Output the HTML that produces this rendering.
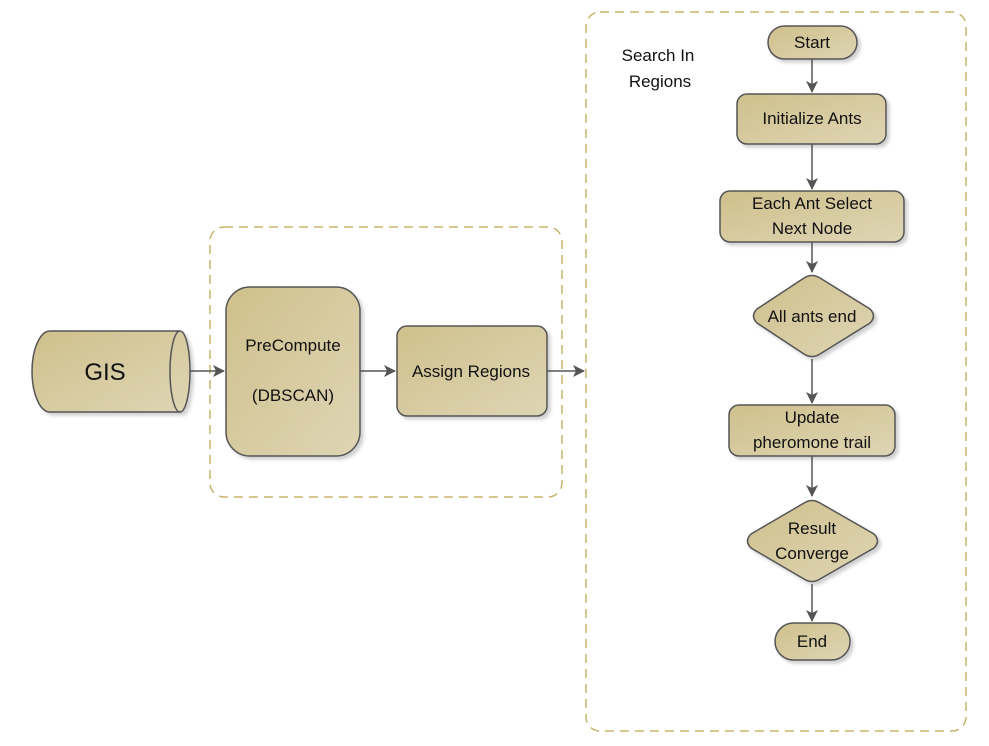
<!DOCTYPE html>
<html><head><meta charset="utf-8"><style>
html,body{margin:0;padding:0;background:#fff;width:989px;height:746px;overflow:hidden}
text{font-family:"Liberation Sans",sans-serif;fill:#111;font-size:17px;text-anchor:middle}
</style></head><body>
<svg width="989" height="746" viewBox="0 0 989 746" xmlns="http://www.w3.org/2000/svg">
<defs>
<linearGradient id="g" x1="0" y1="0" x2="1" y2="1">
<stop offset="0" stop-color="#cfc08c"/><stop offset="1" stop-color="#ded5b4"/></linearGradient>
<filter id="s" x="-10%" y="-10%" width="130%" height="130%"><feDropShadow dx="3" dy="3" stdDeviation="1.5" flood-color="#000" flood-opacity="0.18"/></filter>
<marker id="a" markerWidth="12" markerHeight="12" refX="11" refY="6" orient="auto" markerUnits="userSpaceOnUse"><path d="M0,0 L12,6 L0,12 L3,6 z" fill="#555"/></marker>
</defs>
<g fill="none" stroke="#c8b46c" stroke-width="1.5" stroke-dasharray="9,6">
<rect x="210" y="227" width="352" height="270" rx="14"/>
<rect x="586" y="12" width="380" height="719" rx="14"/>
</g>
<g stroke="#555" stroke-width="1.5" fill="url(#g)" filter="url(#s)">
<path d="M50,331 L180,331 A10,40.5 0 0 1 180,412 L50,412 A18,40.5 0 0 1 50,331 z"/>
<rect x="226" y="287" width="134" height="169" rx="24"/>
<rect x="397" y="326" width="150" height="90" rx="10"/>
<rect x="768" y="26" width="89" height="33" rx="16.5"/>
<rect x="737" y="94" width="149" height="50" rx="10"/>
<rect x="720" y="191" width="184" height="51" rx="10"/>
<path d="M804,278 Q812,273 820,278 L870,309 Q877,316 870,323 L820,354 Q812,359 804,354 L757,323 Q750,316 757,309 z"/>
<rect x="729" y="405" width="166" height="51" rx="10"/>
<path d="M804,503 Q812,498 820,503 L874,534 Q881,541 874,548 L820,579 Q812,584 804,579 L751,548 Q744,541 751,534 z"/>
<rect x="775" y="623" width="75" height="37" rx="18.5"/>
</g>
<path d="M180,331 A10,40.5 0 0 0 180,412" fill="none" stroke="#555" stroke-width="1.5"/>
<g stroke="#555" stroke-width="1.5" fill="none" marker-end="url(#a)">
<line x1="190" y1="371" x2="224" y2="371"/>
<line x1="360" y1="371" x2="395" y2="371"/>
<line x1="547" y1="371" x2="584" y2="371"/>
<line x1="812" y1="59" x2="812" y2="92"/>
<line x1="812" y1="144" x2="812" y2="189"/>
<line x1="812" y1="242" x2="812" y2="272"/>
<line x1="812" y1="359" x2="812" y2="403"/>
<line x1="812" y1="456" x2="812" y2="496"/>
<line x1="812" y1="584" x2="812" y2="621"/>
</g>
<text x="105" y="380" style="font-size:24px">GIS</text>
<text x="293" y="351">PreCompute</text>
<text x="293" y="401">(DBSCAN)</text>
<text x="471" y="377">Assign Regions</text>
<text x="658" y="61">Search In</text>
<text x="660" y="87">Regions</text>
<text x="812" y="48">Start</text>
<text x="812" y="124">Initialize Ants</text>
<text x="812" y="209">Each Ant Select</text>
<text x="812" y="234">Next Node</text>
<text x="812" y="322">All ants end</text>
<text x="812" y="423">Update</text>
<text x="812" y="448">pheromone trail</text>
<text x="812" y="534">Result</text>
<text x="812" y="559">Converge</text>
<text x="812" y="647">End</text>
</svg>
</body></html>
